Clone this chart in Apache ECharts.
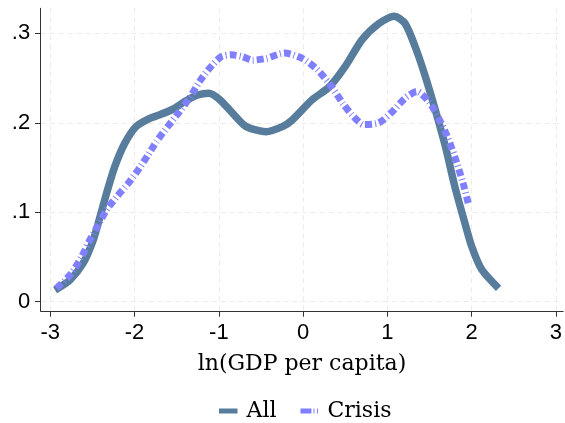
<!DOCTYPE html>
<html><head><meta charset="utf-8">
<script src="https://cdn.jsdelivr.net/npm/echarts@6/dist/echarts.min.js"></script>
<style>html,body{margin:0;padding:0;background:#fff}#c{width:565px;height:423px}</style>
</head><body><div id="c"></div>
<script>
const allX = [-2.944, -2.767, -2.61, -2.49, -2.41, -2.333, -2.235, -2.117, -1.98, -1.82, -1.70, -1.55, -1.40, -1.25, -1.12, -0.99, -0.84, -0.68, -0.44, -0.24, -0.13, 0.11, 0.31, 0.5, 0.7, 0.9, 1.08, 1.21, 1.33, 1.45, 1.57, 1.69, 1.8, 1.92, 2.0, 2.12, 2.32];
const allY = [0.0131, 0.0243, 0.043, 0.069, 0.095, 0.121, 0.151, 0.177, 0.196, 0.205, 0.209, 0.215, 0.224, 0.231, 0.233, 0.226, 0.211, 0.196, 0.19, 0.196, 0.203, 0.226, 0.24, 0.263, 0.293, 0.311, 0.319, 0.311, 0.285, 0.252, 0.214, 0.173, 0.129, 0.088, 0.062, 0.036, 0.015];
const crisisX = [-2.925, -2.747, -2.63, -2.53, -2.43, -2.333, -2.215, -2.078, -1.96, -1.84, -1.74, -1.605, -1.466, -1.35, -1.23, -1.11, -0.97, -0.85, -0.72, -0.6, -0.44, -0.22, -0.01, 0.15, 0.31, 0.47, 0.58, 0.72, 0.9, 1.06, 1.21, 1.35, 1.49, 1.61, 1.71, 1.8, 1.9, 1.96];
const crisisY = [0.015, 0.032, 0.05, 0.069, 0.086, 0.1026, 0.117, 0.132, 0.147, 0.164, 0.179, 0.196, 0.2125, 0.2275, 0.246, 0.261, 0.274, 0.276, 0.274, 0.27, 0.272, 0.278, 0.272, 0.261, 0.244, 0.222, 0.209, 0.198, 0.2, 0.2125, 0.2275, 0.235, 0.224, 0.205, 0.185, 0.162, 0.132, 0.11];
const xTicks = [-3, -2, -1, 0, 1, 2, 3];
const yTicks = [0, 0.1, 0.2, 0.3];
const yTickLabels = ['0', '.1', '.2', '.3'];
const seriesNames = ['All', 'Crisis'];

const serif = 'DejaVu Serif';
const sans = 'Liberation Sans';
const allColor = '#587c9c';
const crisisColor = '#8080ff';
const chart = echarts.init(document.getElementById('c'));
const axisLineStyle = {color: '#333', width: 1};
const splitLine = {show: true, lineStyle: {color: '#ebebeb', type: [5, 4], width: 1}};
chart.setOption({
  animation: false,
  grid: {left: 40.7, right: 0, top: 8.3, bottom: 112},
  xAxis: {
    type: 'value', min: -3.114, max: 3.087,
    axisLine: {show: true, onZero: false, lineStyle: axisLineStyle},
    axisTick: {show: true, length: 5.7, lineStyle: axisLineStyle, customValues: xTicks},
    axisLabel: {customValues: xTicks, color: '#000', fontFamily: sans, fontSize: 22, margin: 11,
      formatter: v => String(v)},
    splitLine: splitLine,
    name: 'ln(GDP per capita)', nameLocation: 'middle', nameGap: 42,
    nameTextStyle: {color: '#000', fontFamily: serif, fontSize: 22}
  },
  yAxis: {
    type: 'value', min: -0.0104, max: 0.328,
    axisLine: {show: true, onZero: false, lineStyle: axisLineStyle},
    axisTick: {show: true, length: 5.7, lineStyle: axisLineStyle, customValues: yTicks},
    axisLabel: {customValues: yTicks, color: '#000', fontFamily: sans, fontSize: 22, margin: 10.5,
      formatter: v => yTickLabels[yTicks.findIndex(t => Math.abs(t - v) < 1e-6)]},
    splitLine: splitLine
  },
  legend: {
    left: 214, top: 395, itemWidth: 18.5, itemHeight: 5, itemGap: 24,
    textStyle: {color: '#000', fontFamily: serif, fontSize: 22, padding: [0, 0, 0, 4]},
    data: [
      {name: seriesNames[0], icon: 'rect', itemStyle: {color: allColor}},
      {name: seriesNames[1], icon: 'path://M0,0h11v5h-11zM13,0h1v5h-1zM16.5,0h1v5h-1z', itemStyle: {color: crisisColor}}
    ]
  },
  series: [
    {name: seriesNames[0], type: 'line', showSymbol: false, symbol: 'none', smooth: 0.25,
      lineStyle: {color: allColor, width: 7.5, cap: 'butt'}, itemStyle: {color: allColor},
      data: allX.map((x, i) => [x, allY[i]])},
    {name: seriesNames[1], type: 'line', showSymbol: false, symbol: 'none', smooth: 0.25,
      lineStyle: {color: crisisColor, width: 7, type: [7, 3, 1, 3], cap: 'butt'}, itemStyle: {color: crisisColor},
      data: crisisX.map((x, i) => [x, crisisY[i]])}
  ]
});
</script></body></html>
